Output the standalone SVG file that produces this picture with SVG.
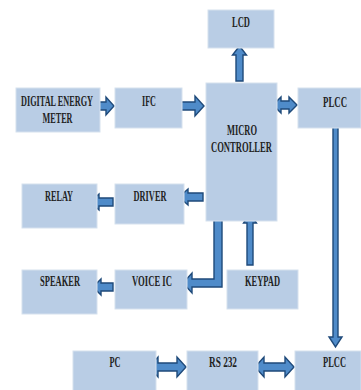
<svg xmlns="http://www.w3.org/2000/svg" width="361" height="390" viewBox="0 0 361 390">
<style>
.box{fill:#b9cde5;stroke:#d6e1ee;stroke-width:1}
.t{font-family:"Liberation Serif","Times New Roman",serif;font-weight:bold;font-size:14px;fill:#222222;text-anchor:middle}
.ar{fill:#4f8bc9;stroke:#1f4a7a;stroke-width:1.4;stroke-linejoin:miter}
</style>
<rect width="361" height="390" fill="#ffffff"/>
<g id="connectors">
<polygon class="ar" points="236,81 243,81 243,55 246.5,55 239.5,46 232.5,55 236,55"/>
<polygon class="ar" points="97,102 106,102 106,97 114,106 106,115 106,110 97,110"/>
<polygon class="ar" points="177,102 195,102 195,96 204,106 195,116 195,110 177,110"/>
<polygon class="ar" points="273,105 281,97 281,101 289,101 289,97 297,105 289,113 289,109 281,109 281,113"/>
<polygon class="ar" points="203,193 188,193 188,189 179,197 188,205 188,201 203,201"/>
<polygon class="ar" points="113,198 99,198 99,194 90,202 99,210 99,206 113,206"/>
<polygon class="ar" points="214,213 222,213 222,287 192,287 192,293 183,283 192,273 192,279 214,279"/>
<polygon class="ar" points="247,265 253,265 253,223 256.5,223 250,213 243.5,223 247,223"/>
<polygon class="ar" points="113,283 101,283 101,279 93,287 101,295 101,291 113,291"/>
<polygon class="ar" points="333,122 338,122 338,337 342,337 335.5,347 329,337 333,337"/>
<polygon class="ar" points="149,367 158,357 158,363 177,363 177,357 186,367 177,377 177,371 158,371 158,377"/>
<polygon class="ar" points="255,367 264,357 264,363 285,363 285,357 294,367 285,377 285,371 264,371 264,377"/>
</g>
<g id="lcd"><rect class="box" x="208" y="10" width="66" height="38"/><text class="t" x="241" y="27" textLength="18" lengthAdjust="spacingAndGlyphs">LCD</text></g>
<g id="dem"><rect class="box" x="16" y="88" width="84" height="44"/><text class="t" x="57" y="106" textLength="72" lengthAdjust="spacingAndGlyphs">DIGITAL ENERGY</text><text class="t" x="57.5" y="123" textLength="30" lengthAdjust="spacingAndGlyphs">METER</text></g>
<g id="ifc"><rect class="box" x="115" y="88" width="67" height="40"/><text class="t" x="149" y="106" textLength="14" lengthAdjust="spacingAndGlyphs">IFC</text></g>
<g id="mc"><rect class="box" x="206" y="83" width="71" height="138"/><text class="t" x="242" y="135" textLength="30" lengthAdjust="spacingAndGlyphs">MICRO</text><text class="t" x="241.5" y="152" textLength="61" lengthAdjust="spacingAndGlyphs">CONTROLLER</text></g>
<g id="plcc1"><rect class="box" x="298" y="88" width="63" height="40"/><text class="t" x="335" y="107" textLength="24" lengthAdjust="spacingAndGlyphs">PLCC</text></g>
<g id="relay"><rect class="box" x="22" y="184" width="75" height="44"/><text class="t" x="59" y="201" textLength="28" lengthAdjust="spacingAndGlyphs">RELAY</text></g>
<g id="driver"><rect class="box" x="115" y="184" width="69" height="40"/><text class="t" x="150" y="201" textLength="33" lengthAdjust="spacingAndGlyphs">DRIVER</text></g>
<g id="speaker"><rect class="box" x="22" y="270" width="75" height="44"/><text class="t" x="60" y="286" textLength="40" lengthAdjust="spacingAndGlyphs">SPEAKER</text></g>
<g id="voice"><rect class="box" x="115" y="270" width="72" height="39"/><text class="t" x="152" y="286" textLength="40" lengthAdjust="spacingAndGlyphs">VOICE IC</text></g>
<g id="keypad"><rect class="box" x="227" y="270" width="71" height="39"/><text class="t" x="262.5" y="286" textLength="35" lengthAdjust="spacingAndGlyphs">KEYPAD</text></g>
<g id="pc"><rect class="box" x="73" y="351" width="83" height="40"/><text class="t" x="115" y="367" textLength="11" lengthAdjust="spacingAndGlyphs">PC</text></g>
<g id="rs232"><rect class="box" x="187" y="351" width="71" height="40"/><text class="t" x="223" y="367" textLength="28" lengthAdjust="spacingAndGlyphs">RS 232</text></g>
<g id="plcc2"><rect class="box" x="295" y="351" width="66" height="40"/><text class="t" x="334.5" y="367" textLength="23" lengthAdjust="spacingAndGlyphs">PLCC</text></g>
</svg>
